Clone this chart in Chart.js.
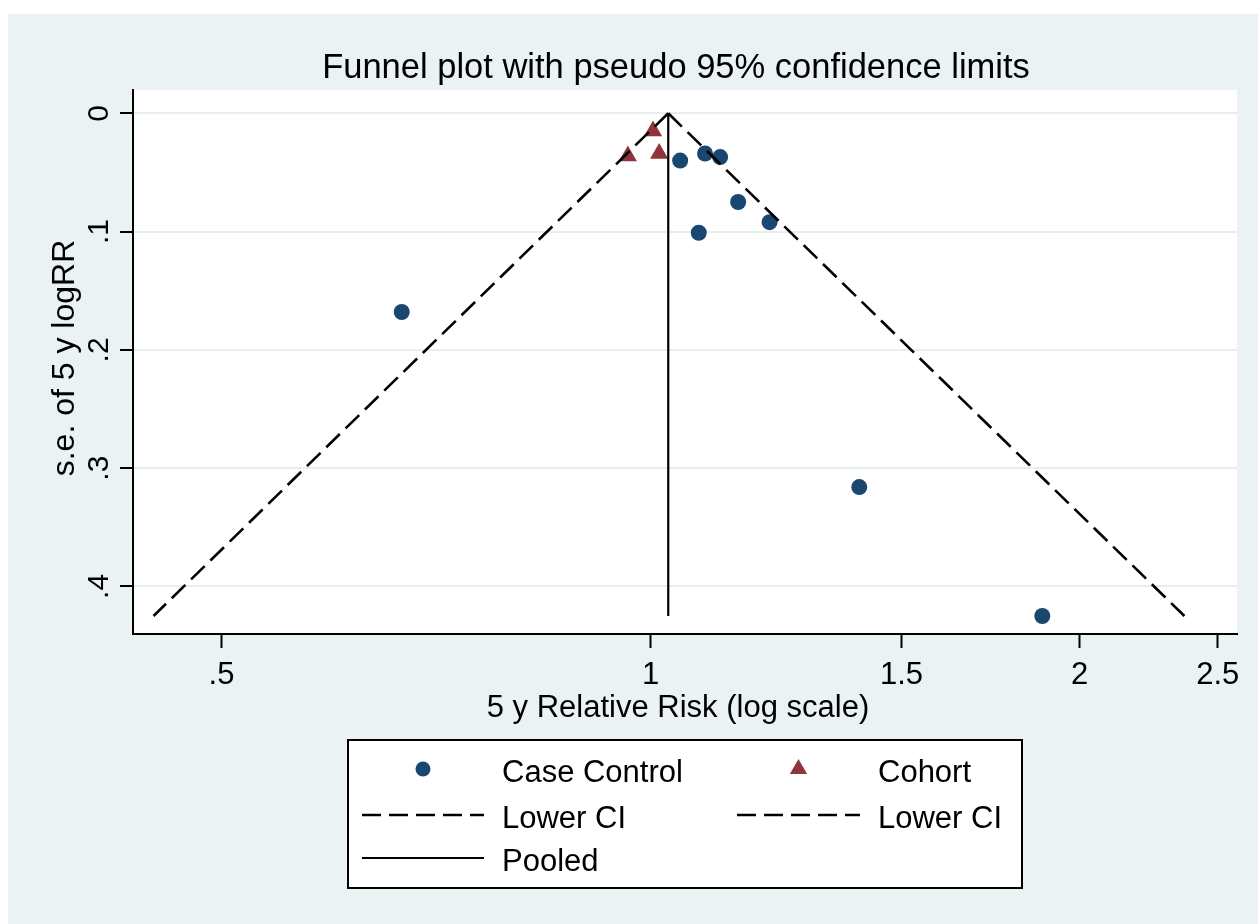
<!DOCTYPE html>
<html>
<head>
<meta charset="utf-8">
<title>Funnel plot</title>
<script src="https://cdn.jsdelivr.net/npm/chart.js@4.4.1/dist/chart.umd.min.js"></script>
<style>
  html, body { margin: 0; padding: 0; background: #fff; }
  #wrap { width: 1258px; height: 924px; }
</style>
</head>
<body>
<div id="wrap"><canvas id="funnel" width="1258" height="924"></canvas></div>
<script>
// study estimates: 5 y relative risk and s.e. of log RR
const caseControlRR = [0.669, 1.049, 1.092, 1.119, 1.152, 1.212, 1.081, 1.401, 1.883];
const caseControlSE = [0.168, 0.040, 0.034, 0.037, 0.075, 0.092, 0.101, 0.316, 0.425];
const cohortRR = [1.004, 0.964, 1.014];
const cohortSE = [0.015, 0.036, 0.034];

// pooled estimate and the ends of the pseudo 95% limits
const pooledRR = 1.029;
const seMax = 0.425;
const lowerCIEnd = 0.448;
const upperCIEnd = 2.369;

const xTicks = [0.5, 1, 1.5, 2, 2.5];
const xTickLabels = [".5", "1", "1.5", "2", "2.5"];
const yTicks = [0, 0.1, 0.2, 0.3, 0.4];
const yTickLabels = ["0", ".1", ".2", ".3", ".4"];

const titleText = "Funnel plot with pseudo 95% confidence limits";
const xTitle = "5 y Relative Risk (log scale)";
const yTitle = "s.e. of 5 y logRR";

const FONT = '"Liberation Sans", Arial, Helvetica, sans-serif';
const NAVY = '#1a476f';
const MAROON = '#90353b';
const BG = '#eaf2f3';
const DASH = [19, 8];

const toPoints = (xs, ys) => xs.map((x, i) => ({ x: x, y: ys[i] }));

function drawMarker(ctx, style, x, y, r, color) {
    ctx.fillStyle = color;
    ctx.beginPath();
    if (style === 'triangle') {
        let rad = 0;
        ctx.moveTo(x + Math.sin(rad) * r, y - Math.cos(rad) * r);
        rad += 2 * Math.PI / 3;
        ctx.lineTo(x + Math.sin(rad) * r, y - Math.cos(rad) * r);
        rad += 2 * Math.PI / 3;
        ctx.lineTo(x + Math.sin(rad) * r, y - Math.cos(rad) * r);
        ctx.closePath();
    } else {
        ctx.arc(x, y, r, 0, Math.PI * 2);
    }
    ctx.fill();
}

// background, titles, rotated y labels and the boxed legend
const statadecor = {
    id: 'statadecor',
    beforeDraw(chart) {
        const { ctx, chartArea: a } = chart;
        ctx.save();
        ctx.fillStyle = '#ffffff';
        ctx.fillRect(0, 0, chart.width, chart.height);
        ctx.fillStyle = BG;
        ctx.fillRect(8, 14, chart.width - 8, chart.height - 14);
        ctx.fillStyle = '#ffffff';
        ctx.fillRect(a.left, a.top, a.right - a.left, a.bottom - a.top);
        ctx.restore();
    },
    afterDraw(chart) {
        const ctx = chart.ctx;
        const yScale = chart.scales.y;
        ctx.save();
        ctx.fillStyle = '#000';

        ctx.font = '34.5px ' + FONT;
        ctx.textAlign = 'center';
        ctx.textBaseline = 'alphabetic';
        ctx.fillText(titleText, 676, 78);

        ctx.font = '31px ' + FONT;
        ctx.fillText(xTitle, 678, 717);

        // y tick labels, turned like the axis title
        ctx.font = '30px ' + FONT;
        yTicks.forEach((v, i) => {
            ctx.save();
            ctx.translate(108, yScale.getPixelForValue(v));
            ctx.rotate(-Math.PI / 2);
            ctx.fillText(yTickLabels[i], 0, 0);
            ctx.restore();
        });

        ctx.save();
        ctx.font = '32px ' + FONT;
        ctx.translate(74, 358);
        ctx.rotate(-Math.PI / 2);
        ctx.fillText(yTitle, 0, 0);
        ctx.restore();

        drawLegend(ctx, chart.data.datasets);
        ctx.restore();
    }
};

function drawLegend(ctx, datasets) {
    const cols = [{ x0: 362, x1: 484, tx: 502 }, { x0: 737, x1: 860, tx: 878 }];
    const rows = [769, 815, 858];
    // case control, cohort, lower CI, lower CI, pooled
    const order = [3, 4, 1, 2, 0];

    ctx.fillStyle = '#ffffff';
    ctx.fillRect(348, 740, 674, 148);
    ctx.strokeStyle = '#000';
    ctx.lineWidth = 2;
    ctx.strokeRect(348, 740, 674, 148);

    order.forEach((di, k) => {
        const ds = datasets[di];
        const col = cols[k % 2];
        const y = rows[Math.floor(k / 2)];
        const mid = (col.x0 + col.x1) / 2;
        if (ds.showLine) {
            ctx.save();
            ctx.strokeStyle = ds.borderColor;
            ctx.lineWidth = ds.borderWidth;
            ctx.setLineDash(ds.borderDash || []);
            ctx.beginPath();
            ctx.moveTo(col.x0, y);
            ctx.lineTo(col.x1, y);
            ctx.stroke();
            ctx.restore();
        } else {
            drawMarker(ctx, ds.pointStyle, mid, y, ds.pointStyle === 'triangle' ? 10 : 7.5, ds.backgroundColor);
        }
        ctx.fillStyle = '#000';
        ctx.font = '31px ' + FONT;
        ctx.textAlign = 'left';
        ctx.textBaseline = 'alphabetic';
        ctx.fillText(ds.label, col.tx, y + 13);
    });
}

new Chart(document.getElementById('funnel'), {
    type: 'scatter',
    data: {
        datasets: [
            {
                label: 'Pooled',
                data: [{ x: pooledRR, y: 0 }, { x: pooledRR, y: seMax }],
                showLine: true, borderColor: '#000', borderWidth: 2.2, pointRadius: 0
            },
            {
                label: 'Lower CI',
                data: [{ x: pooledRR, y: 0 }, { x: lowerCIEnd, y: seMax }],
                showLine: true, borderColor: '#000', borderWidth: 2.6, borderDash: DASH, pointRadius: 0
            },
            {
                label: 'Lower CI',
                data: [{ x: pooledRR, y: 0 }, { x: upperCIEnd, y: seMax }],
                showLine: true, borderColor: '#000', borderWidth: 2.6, borderDash: DASH, pointRadius: 0
            },
            {
                label: 'Case Control',
                data: toPoints(caseControlRR, caseControlSE),
                pointStyle: 'circle', pointRadius: 8, backgroundColor: NAVY, borderWidth: 0
            },
            {
                label: 'Cohort',
                data: toPoints(cohortRR, cohortSE),
                pointStyle: 'triangle', pointRadius: 10.5, backgroundColor: MAROON, borderWidth: 0
            }
        ]
    },
    options: {
        responsive: false,
        animation: false,
        layout: { padding: { left: 0, top: 90, right: 21, bottom: 0 } },
        plugins: {
            legend: { display: false },
            title: { display: false },
            tooltip: { enabled: false }
        },
        scales: {
            x: {
                type: 'logarithmic',
                min: 0.4334,
                max: 2.579,
                afterFit(s) { s.height = 290; },
                afterBuildTicks(s) { s.ticks = xTicks.map(v => ({ value: v })); },
                ticks: {
                    callback: (v, i) => xTickLabels[i],
                    autoSkip: false, maxRotation: 0, minRotation: 0,
                    padding: 9, color: '#000',
                    font: { family: FONT, size: 31 }
                },
                grid: { drawOnChartArea: false, tickLength: 14, tickColor: '#000', tickWidth: 2 },
                border: { color: '#000', width: 2 }
            },
            y: {
                type: 'linear',
                reverse: true,
                min: -0.0197,
                max: 0.4402,
                afterFit(s) { s.width = 133; },
                afterBuildTicks(s) { s.ticks = yTicks.map(v => ({ value: v })); },
                ticks: { display: false },
                grid: { color: '#e6eef0', lineWidth: 2, tickLength: 13, tickColor: '#000', tickWidth: 2 },
                border: { color: '#000', width: 2 }
            }
        }
    },
    plugins: [statadecor]
});
</script>
</body>
</html>
